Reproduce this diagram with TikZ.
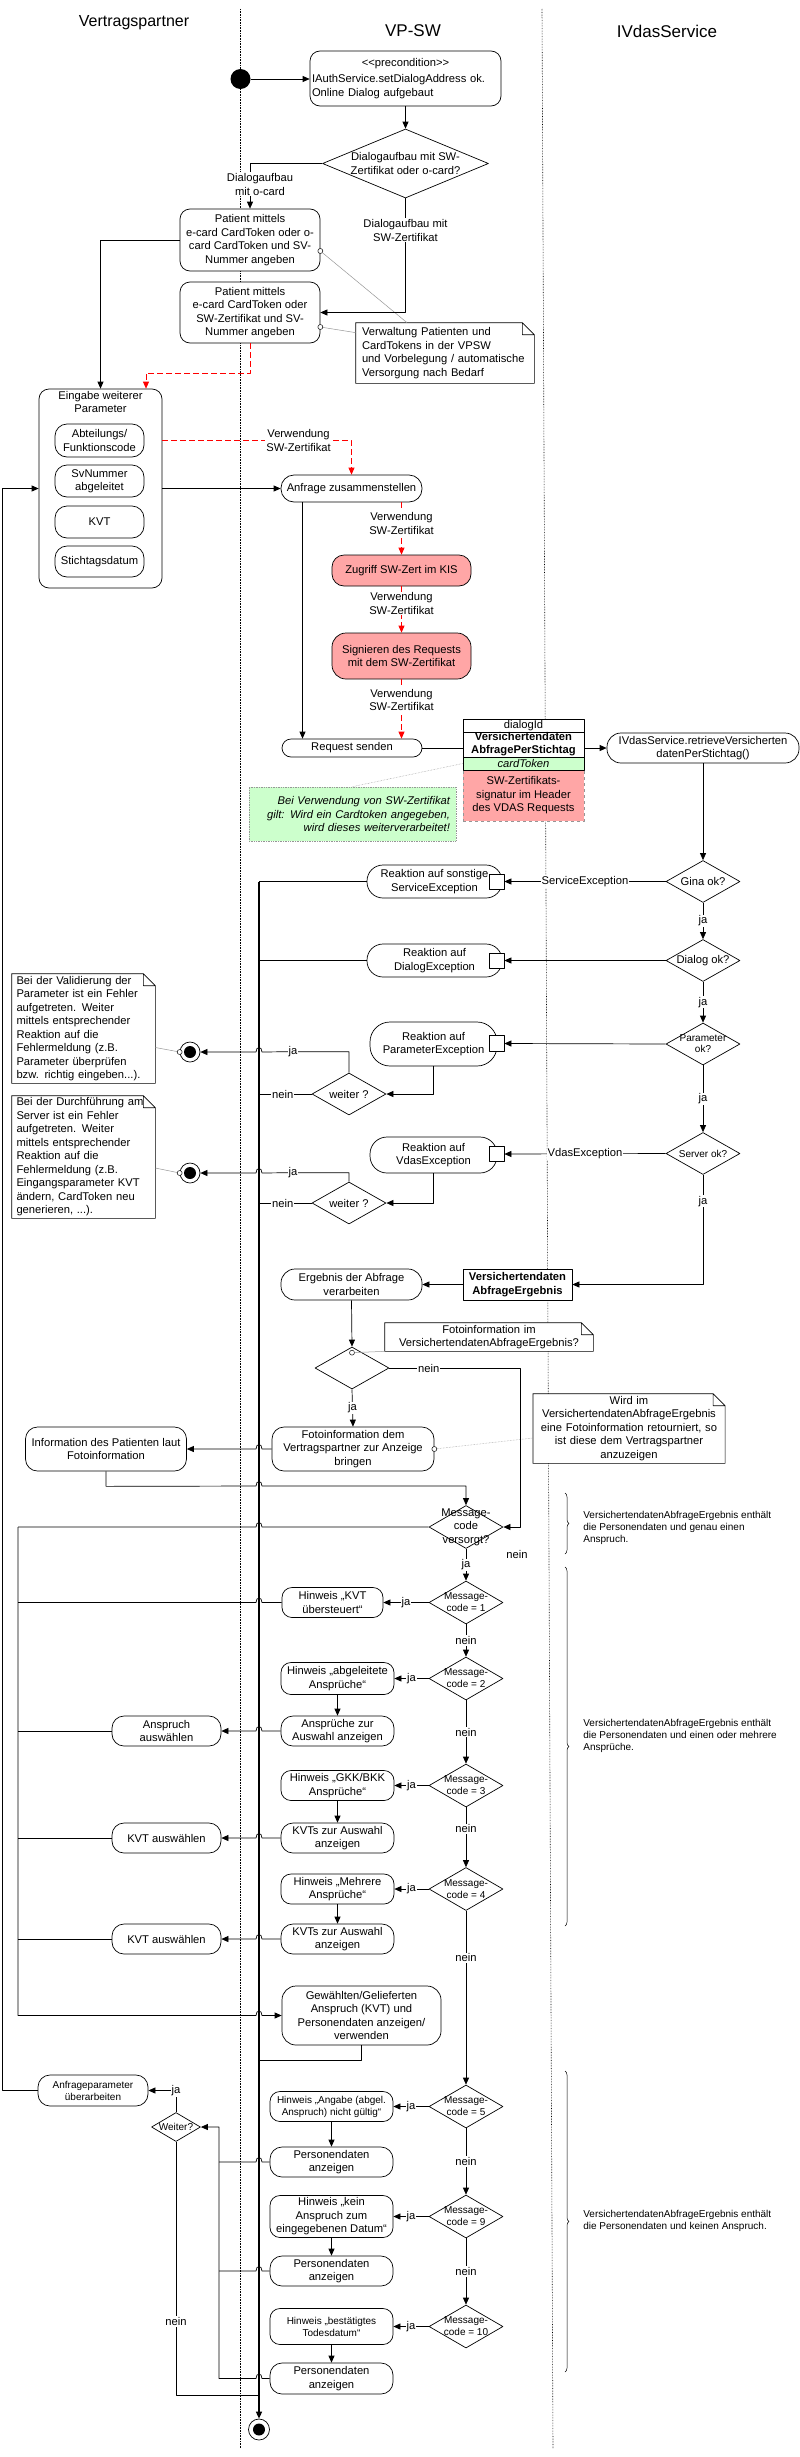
\documentclass[tikz,border=0pt]{standalone}
\usepackage{fontspec}
\setmainfont{Liberation Sans}
\usetikzlibrary{arrows.meta,shapes.geometric,decorations.pathreplacing}

\definecolor{sigred}{RGB}{255,166,166}
\definecolor{tokgreen}{RGB}{204,255,204}
\definecolor{attgray}{RGB}{150,150,150}

\newcommand{\fmain}{\fontsize{11.2}{13.5}\selectfont}
\newcommand{\fsmall}{\fontsize{10}{12}\selectfont}
% hop over the spine (x=259)
\newcommand{\hopl}[1]{-- (262,#1) .. controls (262,#1-6) and (256,#1-6) .. (256,#1)}
\newcommand{\hopr}[1]{-- (256,#1) .. controls (256,#1-6) and (262,#1-6) .. (262,#1)}
\newcommand{\foldnote}[1]{\draw (#1.north west) -- ([xshift=-12pt]#1.north east) -- ([yshift=-12pt]#1.north east) -- (#1.south east) -- (#1.south west) -- cycle ([xshift=-12pt]#1.north east) |- ([yshift=-12pt]#1.north east);}

\tikzset{
  act/.style={draw, fill=white, rounded corners=10pt, align=center, inner sep=0pt, font=\fmain},
  dec/.style={draw, fill=white, diamond, inner sep=0pt, minimum width=74pt, minimum height=42pt},
  dectext/.style={align=center, font=\fmain, inner sep=0pt},
  pinbox/.style={draw, fill=white, minimum width=15pt, minimum height=15pt, inner sep=0pt},
  objrow/.style={draw, fill=white, minimum width=121pt, inner sep=0pt, align=center, font=\fmain},
  note/.style={fill=white, inner sep=0pt, font=\fmain},
  lbl/.style={fill=white, text=black, inner sep=1pt, font=\fmain, align=center},
  redarr/.style={->, red, dash pattern=on 6pt off 3pt},
  attach/.style={attgray, line width=0.5pt},
  attcirc/.style={circle, draw, fill=white, minimum size=5pt, inner sep=0pt, line width=0.5pt},
  endnode/.style={circle, draw, fill=white, minimum size=20pt, inner sep=0pt},
  lane/.style={densely dotted, line width=0.6pt},
  bracel/.style={decorate, decoration={brace, amplitude=4pt}, line width=0.5pt},
}

\begin{document}
\begin{tikzpicture}[x=1pt,y=-1pt,line width=0.7pt,line join=round,>={Triangle[length=7pt,width=6pt]}]
\useasboundingbox (0,0) rectangle (800,2457);

% swimlanes
\draw[lane] (240,9) -- (240,2448);
\draw[lane] (542,9) -- (553,2448);
\node[font=\fontsize{16}{18}\selectfont] (hdVP) at (134,23) {Vertragspartner};
\node[font=\fontsize{17}{19}\selectfont] (hdSW) at (413,31) {VP-SW};
\node[font=\fontsize{17}{19}\selectfont] (hdIV) at (667,31) {IVdasService};

% start and patient
\node[circle,fill=black,minimum size=20pt,inner sep=0pt] (start) at (240.5,79) {};
\node[act,minimum width=191pt,minimum height=55pt,text width=187pt,align=left] (pre) at (405.5,78.5) {\makebox[187pt]{<\kern0pt<precondition>\kern0pt>}\\[3pt]IAuthService.setDialogAddress ok.\\Online Dialog aufgebaut};
\node[dec,minimum width=166pt,minimum height=69pt] (d1) at (405.5,163.5) {};
\node[dectext] (d1Txt) at (d1) {Dialogaufbau mit SW-\\Zertifikat oder o-card?};
\node[act,minimum width=140pt,minimum height=62pt] (pat1) at (250,240) {Patient mittels\\e-card CardToken oder o-\\card CardToken und SV-\\Nummer angeben};
\node[act,minimum width=140pt,minimum height=61pt] (pat2) at (250,312.5) {Patient mittels\\e-card CardToken oder\\SW-Zertifikat und SV-\\Nummer angeben};
\node[note,minimum width=178pt,minimum height=60pt,text width=166pt,align=left] (noteVP) at (445,353) {Verwaltung Patienten und\\CardTokens in der VPSW\\und Vorbelegung / automatische\\Versorgung nach Bedarf};
\foldnote{noteVP}

% parameters
\node[act,minimum width=123pt,minimum height=199pt] (cont) at (100.5,488.5) {};
\node[dectext,anchor=north] (contTxt) at ([yshift=-2pt]cont.north) {Eingabe weiterer\\Parameter};
\node[act,minimum width=89pt,minimum height=33pt,rounded corners=12pt] (abt) at (99.5,440.5) {Abteilungs/\\Funktionscode};
\node[act,minimum width=89pt,minimum height=32pt,rounded corners=12pt] (svn) at (99.5,481) {SvNummer\\abgeleitet};
\node[act,minimum width=89pt,minimum height=32pt,rounded corners=12pt] (kvt) at (99.5,522) {KVT};
\node[act,minimum width=89pt,minimum height=31pt,rounded corners=12pt] (stt) at (99.5,561.5) {Stichtagsdatum};

% request
\node[act,minimum width=141pt,minimum height=27pt,rounded corners=13pt] (anfrage) at (351.5,488.5) {Anfrage zusammenstellen};
\node[act,fill=sigred,minimum width=139pt,minimum height=31pt,rounded corners=12pt] (zugriff) at (401.5,570.5) {Zugriff SW-Zert im KIS};
\node[act,fill=sigred,minimum width=139pt,minimum height=46pt,rounded corners=14pt] (sign) at (401.5,656) {Signieren des Requests\\mit dem SW-Zertifikat};
\node[act,minimum width=140pt,minimum height=18pt,rounded corners=9pt] (request) at (352,748) {Request senden};
\node[objrow,fill=sigred,draw=attgray,dashed,minimum height=51pt] (objSig) at (523.5,795.5) {SW-Zertifikats-\\signatur im Header\\des VDAS Requests};
\node[objrow,minimum height=13pt] (objId) at (523.5,725.5) {dialogId};
\node[objrow,minimum height=25pt,font=\fontsize{11.2}{13}\selectfont\bfseries] (objMain) at (523.5,744.5) {Versichertendaten\\AbfragePerStichtag};
\node[objrow,fill=tokgreen,minimum height=13pt,font=\fmain\itshape] (objCard) at (523.5,763.5) {cardToken};
\node[act,minimum width=192pt,minimum height=30pt,rounded corners=14pt] (retrieve) at (703,748) {IVdasService.retrieveVersicherten\\datenPerStichtag()};
\node[fill=tokgreen,draw=attgray,densely dotted,minimum width=207pt,minimum height=54pt,text width=195pt,align=right,inner sep=0pt,font=\fmain\itshape] (greenNote) at (352.5,814) {Bei Verwendung von SW-Zertifikat\\gilt: Wird ein Cardtoken angegeben,\\wird dieses weiterverarbeitet!};

% exceptions
\node[dec] (gina) at (703,881.5) {};
\node[dectext] (ginaTxt) at (gina) {Gina ok?};
\node[dec] (dlg) at (703,960.5) {};
\node[dectext] (dlgTxt) at (dlg) {Dialog ok?};
\node[dec] (parOk) at (703,1044) {};
\node[dectext,font=\fontsize{10}{11}\selectfont] (parOkTxt) at (parOk) {Parameter\\ok?};
\node[dec] (srv) at (703,1153.5) {};
\node[dectext,font=\fsmall] (srvTxt) at (srv) {Server ok?};

\node[act,minimum width=135pt,minimum height=33pt,rounded corners=16pt] (svcR) at (434.5,881.5) {Reaktion auf sonstige\\ServiceException};
\node[pinbox] (svcPin) at (496.5,881.5) {};
\node[act,minimum width=135pt,minimum height=33pt,rounded corners=16pt] (dlgR) at (434.5,960.5) {Reaktion auf\\DialogException};
\node[pinbox] (dlgPin) at (496.5,960.5) {};
\node[act,minimum width=127pt,minimum height=44pt,rounded corners=20pt] (parR) at (433.5,1044) {Reaktion auf\\ParameterException};
\node[pinbox,minimum height=16pt] (parPin) at (496.5,1043.5) {};
\node[act,minimum width=127pt,minimum height=36pt,rounded corners=17pt] (vdasR) at (433.5,1155) {Reaktion auf\\VdasException};
\node[pinbox] (vdasPin) at (496.5,1154) {};

\node[dec] (w1) at (349,1094) {};
\node[dectext] (w1Txt) at (w1) {weiter ?};
\node[dec] (w2) at (349,1203) {};
\node[dectext] (w2Txt) at (w2) {weiter ?};
\node[endnode] (ff1) at (190,1052) {};
\node[endnode] (ff2) at (190,1173) {};

\node[note,minimum width=143pt,minimum height=109pt,text width=134pt,align=left] (noteVal) at (83.5,1028.5) {Bei der Validierung der\\Parameter ist ein Fehler\\aufgetreten. Weiter\\mittels entsprechender\\Reaktion auf die\\Fehlermeldung (z.B.\\Parameter überprüfen\\bzw. richtig eingeben...).};
\foldnote{noteVal}
\node[note,minimum width=143pt,minimum height=122pt,text width=134pt,align=left] (noteSrv) at (83.5,1157) {Bei der Durchführung am\\Server ist ein Fehler\\aufgetreten.\enspace Weiter\\mittels entsprechender\\Reaktion auf die\\Fehlermeldung (z.B.\\Eingangsparameter KVT\\ändern, CardToken neu\\generieren, ...).};
\foldnote{noteSrv}

% result
\node[draw,fill=white,minimum width=109pt,minimum height=31pt,inner sep=0pt,align=center,font=\fmain\bfseries] (ergObj) at (517.5,1284.5) {Versichertendaten\\AbfrageErgebnis};
\node[act,minimum width=141pt,minimum height=31pt,rounded corners=14pt] (ergebnis) at (351.5,1284.5) {Ergebnis der Abfrage\\verarbeiten};
\node[dec] (fd) at (352,1368) {};
\node[note,minimum width=208pt,minimum height=28pt,text width=200pt,align=center] (noteFoto) at (489,1337) {Fotoinformation im\\VersichertendatenAbfrageErgebnis?};
\foldnote{noteFoto}
\node[act,minimum width=162pt,minimum height=44pt,rounded corners=12pt] (fotoBox) at (353,1449) {Fotoinformation dem\\Vertragspartner zur Anzeige\\bringen};
\node[note,minimum width=191.5pt,minimum height=69pt,text width=185pt,align=center] (noteWird) at (629,1428.5) {Wird im\\VersichertendatenAbfrageErgebnis\\eine Fotoinformation retourniert, so\\ist diese dem Vertragspartner\\anzuzeigen};
\foldnote{noteWird}
\node[act,minimum width=161pt,minimum height=44pt,rounded corners=12pt] (info) at (106,1449) {Information des Patienten laut\\Fotoinformation};

% message codes
\node[dec,minimum height=43pt] (mcv) at (466,1527) {};
\node[dectext] (mcvTxt) at (mcv) {Message-\\code\\versorgt?};
\node[lbl] (mcvNein) at (517,1554) {nein};
\foreach \nm/\yy/\cc in {mc1/1602.5/1,mc2/1678.5/2,mc3/1785.5/3,mc4/1889/4,mc5/2106.5/5,mc9/2216.5/9,mc10/2326.5/10}{
  \node[dec,minimum height=43pt] (\nm) at (466,\yy) {};
  \node[dectext,font=\fsmall] (\nm Txt) at (\nm) {Message-\\code = \cc};
}

\node[act,minimum width=101pt,minimum height=30pt] (hKVT) at (332.5,1602.5) {Hinweis „KVT\\übersteuert“};
\node[act,minimum width=113pt,minimum height=32pt] (hAbg) at (337.5,1678.5) {Hinweis „abgeleitete\\Ansprüche“};
\node[act,minimum width=113pt,minimum height=30pt,rounded corners=12pt] (anzAnsp) at (337.5,1731) {Ansprüche zur\\Auswahl anzeigen};
\node[act,minimum width=109pt,minimum height=30pt,rounded corners=12pt] (selAnsp) at (166.5,1731) {Anspruch\\auswählen};
\node[act,minimum width=113pt,minimum height=30pt] (hGKK) at (337.5,1785.5) {Hinweis „GKK/BKK\\Ansprüche“};
\node[act,minimum width=113pt,minimum height=30pt,rounded corners=12pt] (anzKVT1) at (337.5,1838) {KVTs zur Auswahl\\anzeigen};
\node[act,minimum width=109pt,minimum height=30pt,rounded corners=12pt] (selKVT1) at (166.5,1838) {KVT auswählen};
\node[act,minimum width=113pt,minimum height=30pt] (hMehr) at (337.5,1889) {Hinweis „Mehrere\\Ansprüche“};
\node[act,minimum width=113pt,minimum height=30pt,rounded corners=12pt] (anzKVT2) at (337.5,1939) {KVTs zur Auswahl\\anzeigen};
\node[act,minimum width=109pt,minimum height=30pt,rounded corners=12pt] (selKVT2) at (166.5,1939) {KVT auswählen};
\node[act,minimum width=159pt,minimum height=59pt,rounded corners=14pt] (gew) at (361.5,2015.5) {Gewählten/Gelieferten\\Anspruch (KVT) und\\Personendaten anzeigen/\\verwenden};

\node[act,minimum width=110pt,minimum height=31pt,rounded corners=12pt,font=\fsmall] (apar) at (93,2090.5) {Anfrageparameter\\überarbeiten};
\node[dec,minimum width=49pt,minimum height=29pt] (weit) at (176,2127) {};
\node[dectext,font=\fsmall] (weitTxt) at (weit) {Weiter?};
\node[act,minimum width=123pt,minimum height=30pt,font=\fsmall] (hAng) at (331.5,2106.5) {Hinweis „Angabe (abgel.\\Anspruch) nicht gültig“};
\node[act,minimum width=123pt,minimum height=30pt,rounded corners=12pt] (pd1) at (331.5,2162) {Personendaten\\anzeigen};
\node[act,minimum width=123pt,minimum height=42pt] (hKein) at (331.5,2216.5) {Hinweis „kein\\Anspruch zum\\eingegebenen Datum“};
\node[act,minimum width=123pt,minimum height=30pt,rounded corners=12pt] (pd2) at (331.5,2271) {Personendaten\\anzeigen};
\node[act,minimum width=123pt,minimum height=36pt,font=\fsmall] (hTod) at (331.5,2326.5) {Hinweis „bestätigtes\\Todesdatum“};
\node[act,minimum width=123pt,minimum height=31pt,rounded corners=12pt] (pd3) at (331.5,2378.5) {Personendaten\\anzeigen};
\node[endnode,minimum size=21pt] (final) at (259,2429.5) {};
\foreach \e in {ff1,ff2,final}
  \fill (\e) circle (6pt);

% braces
\draw[bracel] (565,1493) -- (565,1554);
\node[anchor=west,align=left,font=\fsmall,inner sep=0pt] (bt1) at (583,1528) {VersichertendatenAbfrageErgebnis enthält\\die Personendaten und genau einen\\Anspruch.};
\draw[bracel] (565,1567) -- (565,1926);
\node[anchor=west,align=left,font=\fsmall,inner sep=0pt] (bt2) at (583,1736) {VersichertendatenAbfrageErgebnis enthält\\die Personendaten und einen oder mehrere\\Ansprüche.};
\draw[bracel] (565,2071) -- (565,2372);
\node[anchor=west,align=left,font=\fsmall,inner sep=0pt] (bt3) at (583,2221) {VersichertendatenAbfrageErgebnis enthält\\die Personendaten und keinen Anspruch.};

\coordinate (spine) at (259,882);
\coordinate (railTop) at (18,1527);
\coordinate (wrail) at (219,2127);

% attachments
\node[attcirc] (ac5) at ([yshift=-11pt]pat1.east) {};
\node[attcirc] (ac6) at ([yshift=-14.5pt]pat2.east) {};
\node[attcirc] (ac1) at (ff1.west) {};
\node[attcirc] (ac2) at (ff2.west) {};
\node[attcirc] (ac3) at ([yshift=-6pt]fd.north) {};
\node[attcirc] (ac4) at (fotoBox.east) {};
\draw[attach] (ac5) -- ([xshift=-38pt]noteVP.north);
\draw[attach] (ac6) -- ([yshift=-10pt]noteVP.north west);
\draw[attach,densely dotted] (objCard.west) -- (greenNote.north);
\draw[attach] ([yshift=-19pt]noteVal.east) -- (ac1);
\draw[attach] ([yshift=-11pt]noteSrv.east) -- (ac2);
\draw[attach] (ac3) -- (noteFoto.south west);
\draw[attach,densely dotted] (ac4) -- ([yshift=-9.5pt]noteWird.west);

% flow
\draw[->] (start) -- (start -| pre.west);
\draw[->] (pre.south) -- (d1.north);
\draw[->] (d1.west) -| node[lbl,pos=0.73,xshift=10pt]{Dialogaufbau\\mit o-card} (pat1.north);
\draw[->] (d1.south) |- node[lbl,pos=0.14]{Dialogaufbau mit\\SW-Zertifikat} (pat2.east);
\draw[->] (pat1.west) -| (cont.north);
\draw[redarr] (pat2.south) -- ++(0,30) -| ([xshift=45.5pt]cont.north);
\draw[redarr] (cont.east |- abt) -| node[lbl,pos=0.36]{Verwendung\\SW-Zertifikat} (anfrage.north);
\draw[->] (cont.east) -- (anfrage.west);
\draw[->] (apar.west) -- ++(-35,0) |- (cont.west);
\draw[redarr] (anfrage.south -| zugriff.north) -- node[lbl,pos=0.4]{Verwendung\\SW-Zertifikat} (zugriff.north);
\draw[redarr] (zugriff.south) -- node[lbl,pos=0.37]{Verwendung\\SW-Zertifikat} (sign.north);
\draw[redarr] (sign.south) -- node[lbl,pos=0.35]{Verwendung\\SW-Zertifikat} (sign.south |- request.north);
\draw[->] ([xshift=-49pt]anfrage.south) -- ([xshift=-49.5pt]request.north);
\draw (request.east) -- (request.east -| objMain.west);
\draw[->] (request -| objMain.east) -- (retrieve.west);
\draw[->] (retrieve.south) -- (gina.north);
\draw[->] (gina.west) -- node[lbl]{ServiceException} (svcPin.east);
\draw[->] (gina.south) -- node[lbl]{ja} (dlg.north);
\draw[->] (dlg.west) -- (dlgPin.east);
\draw[->] (dlg.south) -- node[lbl]{ja} (parOk.north);
\draw[->] (parOk.west) -- (parPin.east);
\draw[->] (parOk.south) -- node[lbl]{ja} (srv.north);
\draw[->] (srv.west) -- node[lbl]{VdasException} (vdasPin.east);
\draw[->] (srv.south) |- node[lbl,pos=0.12]{ja} (ergObj.east);
\draw (svcR.west) -- (svcR.west -| spine);
\draw (dlgR.west) -- (dlgR.west -| spine);
\draw[->] (parR.south) |- (w1.east);
\draw[->] (vdasR.south) |- (w2.east);
\draw[->] (w1.north) -- ++(0,-21) -- ++(-56,0) node[lbl]{ja} \hopl{1052} -- (ff1);
\draw[->] (w2.north) -- ++(0,-9) -- ++(-56,0) node[lbl]{ja} \hopl{1173} -- (ff2);
\draw (w1.west) -- node[lbl,pos=0.55]{nein} (w1.west -| spine);
\draw (w2.west) -- node[lbl,pos=0.55]{nein} (w2.west -| spine);

\draw[->] (ergObj.west) -- (ergebnis.east);
\draw[->] (ergebnis.south) -- (fd.north);
\draw[->] (fd.east) -- node[lbl,pos=0.3]{nein} ++(131,0) |- (mcv.east);
\draw[->] (fd.south) -- node[lbl]{ja} (fotoBox.north);
\draw[->] (fotoBox.west) \hopl{1449} -- (info.east);
\draw[->] (info.south) -- ++(0,15) \hopr{1486} -| (mcv.north);
\draw (mcv.west) \hopl{1527} -- (railTop);
\draw[->] (mcv.south) -- node[lbl]{ja} (mc1.north);
\draw[->] (mc1.south) -- node[lbl]{nein} (mc2.north);
\draw[->] (mc2.south) -- node[lbl]{nein} (mc3.north);
\draw[->] (mc3.south) -- node[lbl,pos=0.36]{nein} (mc4.north);
\draw[->] (mc4.south) -- node[lbl,pos=0.27]{nein} (mc5.north);
\draw[->] (mc5.south) -- node[lbl]{nein} (mc9.north);
\draw[->] (mc9.south) -- node[lbl]{nein} (mc10.north);
\foreach \m/\h in {mc1/hKVT,mc2/hAbg,mc3/hGKK,mc4/hMehr,mc5/hAng,mc9/hKein,mc10/hTod}
  \draw[->] (\m.west) -- node[lbl]{ja} (\h.east);
\foreach \a/\b in {hAbg/anzAnsp,hGKK/anzKVT1,hMehr/anzKVT2,hAng/pd1,hKein/pd2,hTod/pd3}
  \draw[->] (\a.south) -- (\b.north);
\draw (hKVT.west) \hopl{1602.5} -- (hKVT.west -| railTop);
\foreach \a/\b/\yy in {anzAnsp/selAnsp/1731,anzKVT1/selKVT1/1838,anzKVT2/selKVT2/1939}{
  \draw[->] (\a.west) \hopl{\yy} -- (\b.east);
  \draw (\b.west) -- (\b.west -| railTop);
}
\draw[->] (railTop) -- (railTop |- gew) \hopr{2015.5} -- (gew.west);
\draw (gew.south) -- ++(0,15) -- ++(-102.5,0);

\draw (pd1.west) \hopl{2162} -- (pd1.west -| wrail);
\draw (pd2.west) \hopl{2271} -- (pd2.west -| wrail);
\draw[->] (pd3.west) \hopl{2378.5} -- (pd3.west -| wrail) -- (wrail) -- (weit.east);
\draw[->] (weit.north) |- node[lbl]{ja} (apar.east);
\draw (weit.south) -- node[lbl,pos=0.71]{nein} ++(0,253) -- ++(83,0);

% spine to the end
\draw[->,line width=1.4pt] (spine) -- (final);
\end{tikzpicture}
\end{document}
